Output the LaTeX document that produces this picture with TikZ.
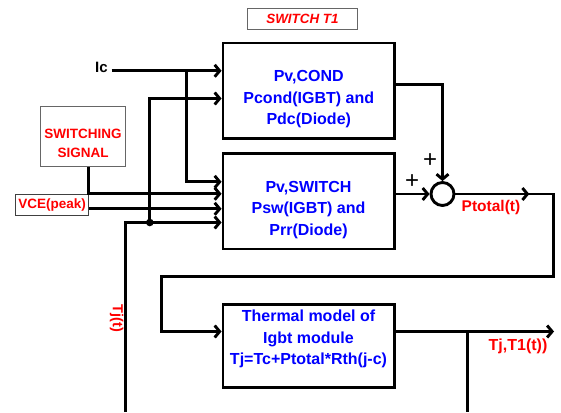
\documentclass[tikz,border=0pt]{standalone}
\usepackage{fontspec}
\setmainfont{Liberation Sans}
\usepackage{tikz}
\usetikzlibrary{arrows.meta,positioning}
\definecolor{txtblue}{HTML}{0000FF}
\definecolor{txtred}{HTML}{FF0000}
\definecolor{framegray}{HTML}{666666}

\begin{document}
\begin{tikzpicture}[x=1pt,y=-1pt,>={Straight Barb[length=5pt,width=12pt]},font=\bfseries]
\tikzset{
block/.style={draw,line width=2.9pt,minimum width=171.5pt,inner sep=0pt},
btext/.style={text=txtblue,font=\fontsize{16}{21.5}\selectfont\bfseries,align=center,inner sep=0pt},
tag/.style={draw=framegray,line width=1.2pt,inner sep=0pt},
rtext/.style={text=txtred,font=\fontsize{13.5}{19}\selectfont\bfseries,align=center,inner sep=0pt},
lbl/.style={text=txtred,font=\fontsize{15.5}{18}\selectfont\bfseries,inner sep=0pt},
pm/.style={font=\fontsize{24}{24}\selectfont\mdseries,inner sep=0pt},
a/.style={->,line width=2.9pt},
ln/.style={line width=2.9pt}}

\useasboundingbox (0,0) rectangle (561,412);

\node[tag,rtext,minimum width=109.6pt,minimum height=20.6pt,font=\fontsize{13.4}{16}\selectfont\bfseries\itshape] (title) at (302.5,19) {SWITCH T1};

\node[block,minimum height=95.5pt] (cond) at (308.75,90.75) {};
\node[btext] (condtxt) at (308.75,99.5) {Pv,COND\\Pcond(IGBT) and\\Pdc(Diode)};
\node[block,minimum height=95.5pt] (sw) at (308.75,201.25) {};
\node[btext] (swtxt) at (308.5,210) {Pv,SWITCH\\Psw(IGBT) and\\Prr(Diode)};
\node[block,minimum height=82.6pt] (therm) at (308.75,346) {};
\node[btext] (thermtxt) at (308.5,339) {Thermal model of\\Igbt module\\Tj=Tc+Ptotal*Rth(j-c)};

\node[tag,minimum width=84.5pt,minimum height=60.4pt] (sig) at (83,136.5) {};
\node[rtext] (sigtxt) at (83,143) {SWITCHING\\SIGNAL};
\node[tag,draw=black!75,rtext,minimum width=73pt,minimum height=21pt] (vce) at (52.2,204.8) {VCE(peak)};
\node[font=\fontsize{15}{18}\selectfont\bfseries,inner sep=0pt] (ic) at (101.5,67.5) {Ic};

\node[circle,draw,line width=2.9pt,minimum size=23pt,inner sep=0pt] (sum) at (442.5,194) {};
\node[pm] (plus1) at (412,181.5) {+};
\node[pm] (plus2) at (430,161) {+};

\node[lbl] (ptot) at (491,207) {Ptotal(t)};
\node[lbl,font=\fontsize{16}{18}\selectfont\bfseries] (tjout) at (518,346) {Tj,T1(t))};
\node[lbl,font=\fontsize{14.5}{18}\selectfont\bfseries,rotate=-90] (tjt) at (116.7,318.3) {Tj(t)};

\coordinate (icin) at (111.7,70.8);
\coordinate (icbr) at (186.5,70.8);
\coordinate (jdot) at (149.8,222.5);
\coordinate (fbbot) at (125.5,412);
\coordinate (ptarr) at (529.3,194);
\coordinate (rt) at (553.2,194);
\coordinate (lb) at (161.8,276.5);
\coordinate (tjend) at (554,331.5);
\coordinate (tjbr) at (467.2,331.5);
\coordinate (tjbot) at (467.2,412);

% inputs of the two loss blocks
\draw[a] (icin) -- (icin -| cond.west);
\draw[a] (icbr) |- ([yshift=19.45pt]sw.west);
\draw[a] (jdot) |- ([yshift=-7.75pt]cond.west);
\draw[a] ([xshift=5.8pt]sig.south) |- ([yshift=7.45pt]sw.west);
\draw[a] ([yshift=-4pt]vce.east) -- ([yshift=-7.55pt]sw.west);
\draw[a] (fbbot) |- ([yshift=-21.25pt]sw.west);
\fill (jdot) circle (3.8pt);

% summing point and thermal model
\draw[a] ([yshift=6.55pt]cond.east) -| (sum.north);
\draw[a] (sum.west -| sw.east) -- (sum.west);
\draw[a] (sum.east) -- (ptarr);
\draw[a] (sum.east) -- (rt) |- (lb) |- ([yshift=14.5pt]therm.west);
\draw[a] ([yshift=14.5pt]therm.east) -- (tjend);
\draw[ln] (tjbr) -- (tjbot);
\end{tikzpicture}
\end{document}
